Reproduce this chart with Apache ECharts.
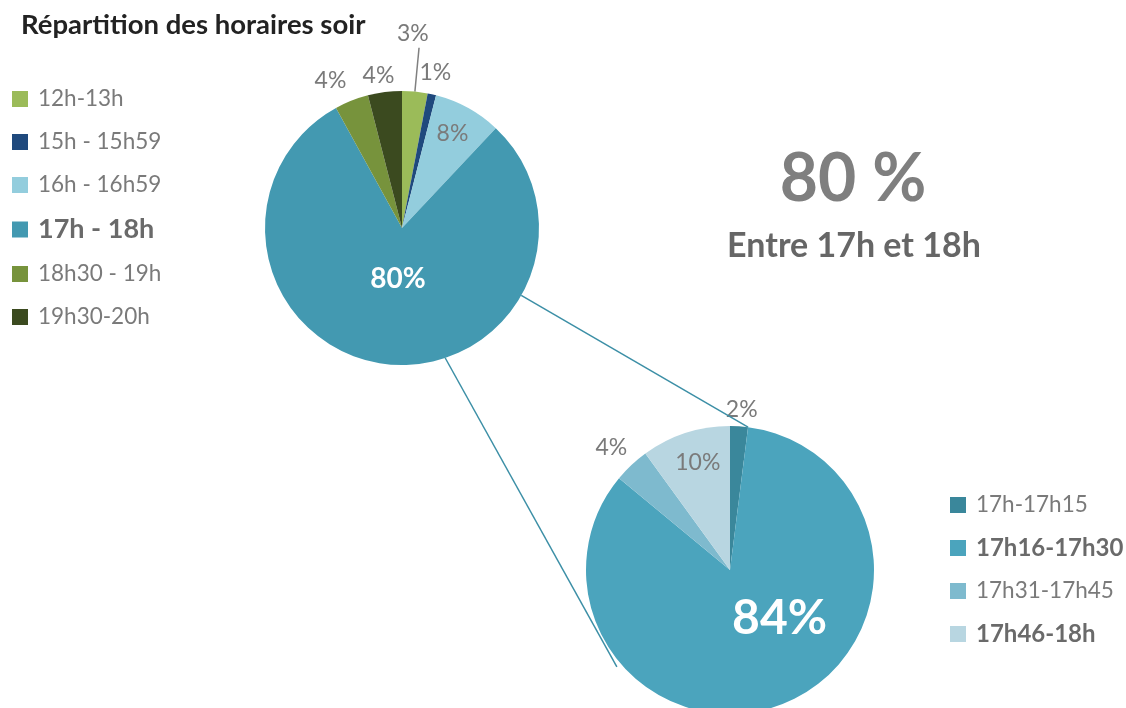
<!DOCTYPE html>
<html>
<head>
<meta charset="utf-8">
<script src="https://cdn.jsdelivr.net/npm/echarts@6/dist/echarts.min.js"></script>
<style>
  html, body { margin: 0; padding: 0; background: #fff; }
  #main { width: 1126px; height: 708px; }
</style>
</head>
<body>
<div id="main"></div>
<script>
// données
var soirNames = ['12h-13h', '15h - 15h59', '16h - 16h59', '17h - 18h', '18h30 - 19h', '19h30-20h'];
var soirValues = [3, 1, 8, 80, 4, 4];
var detailNames = ['17h-17h15', '17h16-17h30', '17h31-17h45', '17h46-18h'];
var detailValues = [2, 84, 4, 10];
var bigText = '80 %';
var subText = 'Entre 17h et 18h';

var soirColors = ['#9BBB59', '#1F497D', '#93CDDD', '#4399B1', '#77933C', '#3B4A1F'];
var detailColors = ['#3A879B', '#4BA4BD', '#7EBACE', '#B8D6E1'];

var FONT = 'Lato';
var GREY = '#7a7a7a';

// géométrie des deux camemberts
var c1 = [402, 228], r1 = 137;
var c2 = [730, 570], r2 = 144;

// label styles per slice
var soirLabels = [
  { position: 'outside' },
  { position: 'outside' },
  { position: 'inside' },
  { position: 'inside', color: '#fff', fontWeight: 'bold', fontSize: 28 },
  { position: 'outside' },
  { position: 'outside' }
];
var soirNudge = [[-27, -14], [-27, 21], [16, -32], [5, -20], [16, 21], [20, 27]];
var detailLabels = [
  { position: 'outside' },
  { position: 'inside', color: '#fff', fontWeight: 'bold', fontSize: 48 },
  { position: 'outside' },
  { position: 'inside' }
];
var detailNudge = [[-21, 27], [22, -21], [31, 15], [-9, -36]];

function buildData(names, values, colors, labels, withLine) {
  return names.map(function (n, i) {
    return {
      name: n,
      value: values[i],
      itemStyle: { color: colors[i] },
      label: labels[i],
      labelLine: { show: withLine === i, length: 44, length2: 0, lineStyle: { color: '#808080', width: 1.5 } }
    };
  });
}

function pt(c, r, deg) {
  // deg: angle clockwise from the x axis
  var a = deg * Math.PI / 180;
  return [c[0] + r * Math.cos(a), c[1] + r * Math.sin(a)];
}

var chart = echarts.init(document.getElementById('main'));

var legendText = { fontFamily: FONT, fontSize: 22.5, color: GREY, lineHeight: 24, padding: [0, 0, 0, 5] };
function legendData(names, boldIdx, boldSize) {
  return names.map(function (n, i) {
    var o = { name: n, icon: 'rect' };
    if (boldIdx.indexOf(i) >= 0) o.textStyle = { fontWeight: 'bold', fontSize: boldSize, lineHeight: 24, color: '#6a6a6a' };
    return o;
  });
}

var pa = pt(c1, r1, 29.5), pb = pt(c2, r2, -82.8);
var qa = pt(c1, r1, 71.6), qb = pt(c2, 149, 139.4);

var option = {
  animation: false,
  title: {
    text: 'Répartition des horaires soir',
    left: 16, top: 6,
    textStyle: { fontFamily: FONT, fontSize: 27.5, fontWeight: 'bold', color: '#222' }
  },
  legend: [
    {
      orient: 'vertical', left: 12, top: 87, padding: 0,
      itemWidth: 16, itemHeight: 16, itemGap: 19,
      selectedMode: false,
      textStyle: legendText,
      data: legendData(soirNames, [3], 27)
    },
    {
      orient: 'vertical', left: 950, top: 493, padding: 0,
      itemWidth: 16, itemHeight: 16, itemGap: 19,
      selectedMode: false,
      textStyle: legendText,
      data: legendData(detailNames, [1, 3], 24)
    }
  ],
  graphic: [
    { type: 'line', z: 5, shape: { x1: pa[0], y1: pa[1], x2: pb[0], y2: pb[1] }, style: { stroke: '#3C8FA6', lineWidth: 1.5 } },
    { type: 'line', z: 5, shape: { x1: qa[0], y1: qa[1], x2: qb[0], y2: qb[1] }, style: { stroke: '#3C8FA6', lineWidth: 1.5 } },
    { type: 'text', x: 853, y: 180, style: { text: bigText, align: 'center', verticalAlign: 'middle', fontFamily: FONT, fontSize: 66, fontWeight: 'bold', fill: '#7f7f7f' } },
    { type: 'text', x: 854, y: 246, style: { text: subText, align: 'center', verticalAlign: 'middle', fontFamily: FONT, fontSize: 34, fontWeight: 'bold', fill: '#666' } }
  ],
  series: [
    {
      name: 'soir', type: 'pie',
      center: c1, radius: r1,
      startAngle: 90, clockwise: true,
      avoidLabelOverlap: false,
      label: { formatter: '{c}%', fontFamily: FONT, fontSize: 23, color: GREY },
      labelLine: { length: 12, length2: 0 },
      labelLayout: function (p) {
        var n = soirNudge[p.dataIndex];
        return { dx: n[0], dy: n[1] };
      },
      data: buildData(soirNames, soirValues, soirColors, soirLabels, 0)
    },
    {
      name: 'detail', type: 'pie',
      center: c2, radius: r2,
      startAngle: 90, clockwise: true,
      avoidLabelOverlap: false,
      label: { formatter: '{c}%', fontFamily: FONT, fontSize: 23, color: GREY },
      labelLine: { length: 12, length2: 0 },
      labelLayout: function (p) {
        var n = detailNudge[p.dataIndex];
        return { dx: n[0], dy: n[1] };
      },
      data: buildData(detailNames, detailValues, detailColors, detailLabels, -1)
    }
  ]
};

chart.setOption(option);
</script>
</body>
</html>
